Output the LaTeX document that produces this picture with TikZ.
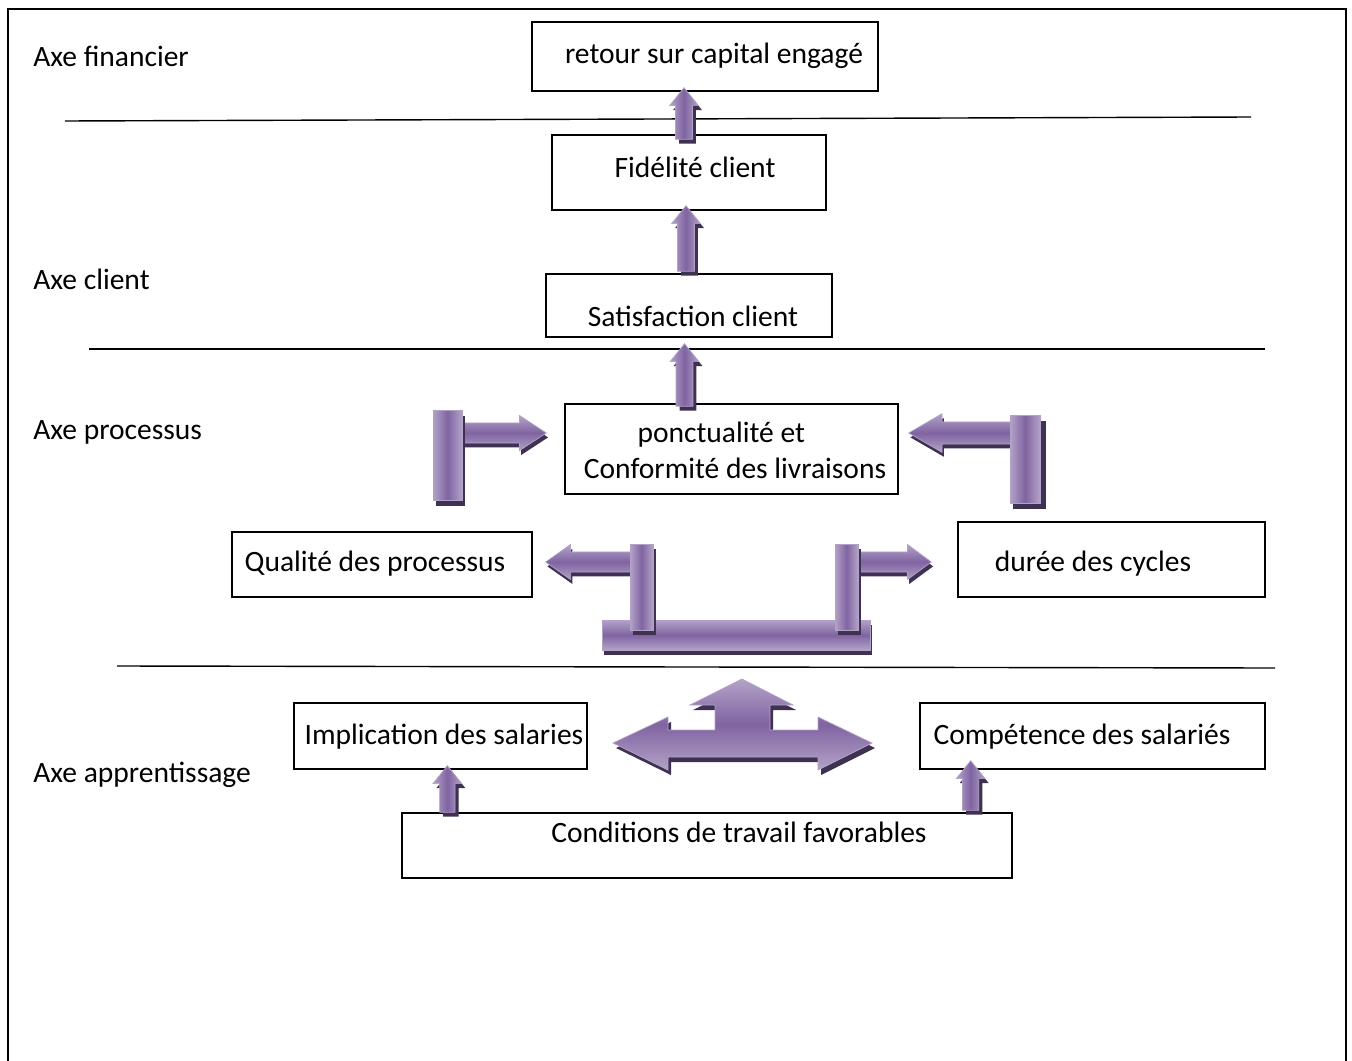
\documentclass[tikz,border=0pt]{standalone}
\usepackage{fontspec}
\setmainfont{Carlito}
\usepackage{tikz}
\usetikzlibrary{calc}

\definecolor{violetmoyen}{HTML}{8064A2}
\definecolor{violetclair}{HTML}{B3A2C7}
\definecolor{violetsombre}{HTML}{3F3151}

\tikzset{
  boite/.style={draw=black, line width=0.8pt, rectangle, inner sep=0pt},
  texte/.style={inner sep=0pt, font=\fontsize{16.8}{20.4}\selectfont},
  axe/.style={texte, anchor=west},
  ligne/.style={draw=black, line width=0.8pt},
  corpsV/.style={left color=violetclair, right color=violetclair, middle color=violetmoyen, draw=violetmoyen!60!white, line width=0.4pt},
  corpsH/.style={top color=violetclair, bottom color=violetclair, middle color=violetmoyen, draw=violetmoyen!60!white, line width=0.4pt},
}

% fleche verticale : base, pointe, demi-tige, demi-tete, longueur de tete
\newcommand{\flecheV}[5]{%
  \fill[violetsombre] let \p1=#1, \p2=#2 in
    ({\x1-#3+2pt},{\y1-2.5pt}) -- ({\x1-#3+2pt},{\y2-#5-2.5pt}) -- ({\x1-#4+2pt},{\y2-#5-2.5pt})
    -- ({\x1+2pt},{\y2-2.5pt}) -- ({\x1+#4+2pt},{\y2-#5-2.5pt}) -- ({\x1+#3+2pt},{\y2-#5-2.5pt})
    -- ({\x1+#3+2pt},{\y1-2.5pt}) -- cycle;
  \path[corpsV] let \p1=#1, \p2=#2 in
    ({\x1-#3},{\y1}) -- ({\x1-#3},{\y2-#5}) -- ({\x1-#4},{\y2-#5}) -- ({\x1},{\y2})
    -- ({\x1+#4},{\y2-#5}) -- ({\x1+#3},{\y2-#5}) -- ({\x1+#3},{\y1}) -- cycle;
}
% fleche horizontale : base, pointe, demi-tige, demi-tete, longueur de tete (negative vers la gauche)
\newcommand{\flecheH}[5]{%
  \fill[violetsombre] let \p1=#1, \p2=#2 in
    ({\x1+1pt},{\y1+#3-2.5pt}) -- ({\x2-(#5)+1pt},{\y1+#3-2.5pt}) -- ({\x2-(#5)+1pt},{\y1+#4-2.5pt})
    -- ({\x2+1pt},{\y1-2.5pt}) -- ({\x2-(#5)+1pt},{\y1-#4-2.5pt}) -- ({\x2-(#5)+1pt},{\y1-#3-2.5pt})
    -- ({\x1+1pt},{\y1-#3-2.5pt}) -- cycle;
  \path[corpsH] let \p1=#1, \p2=#2 in
    ({\x1},{\y1+#3}) -- ({\x2-(#5)},{\y1+#3}) -- ({\x2-(#5)},{\y1+#4}) -- ({\x2},{\y1})
    -- ({\x2-(#5)},{\y1-#4}) -- ({\x2-(#5)},{\y1-#3}) -- ({\x1},{\y1-#3}) -- cycle;
}

\begin{document}
\begin{tikzpicture}[x=0.02cm, y=-0.02cm]
\useasboundingbox (0,0) rectangle (1352,1061);
\draw[line width=1.2pt] (8,1080) -- (8,9) -- (1346,9) -- (1346,1080);

% axes
\node[axe] (financier) at (33,56) {Axe financier};
\node[axe] (client) at (33,279) {Axe client};
\node[axe] (processus) at (33,432) {Axe processus};
\node[axe] (apprentissage) at (33,775) {Axe apprentissage};

\draw[ligne] (65,121) -- (1251,117);
\draw[ligne] (89,349) -- (1265,349);
\draw[ligne] (117,666) -- (1275,668);

% cadres
\node[boite, minimum width=6.92cm, minimum height=1.38cm] (retour) at (705,56.5) {};
\node[boite, minimum width=5.48cm, minimum height=1.5cm] (fid) at (689,172.5) {};
\node[boite, minimum width=5.72cm, minimum height=1.26cm] (sat) at (689,305.5) {};
\node[boite, minimum width=6.66cm, minimum height=1.8cm] (ponct) at (731.5,449) {};
\node[boite, minimum width=6cm, minimum height=1.3cm] (qual) at (382,564.5) {};
\node[boite, minimum width=6.14cm, minimum height=1.5cm] (duree) at (1111.5,559.5) {};
\node[boite, minimum width=5.86cm, minimum height=1.32cm] (impl) at (440.5,736) {};
\node[boite, minimum width=6.9cm, minimum height=1.32cm] (comp) at (1092.5,736) {};
\node[boite, minimum width=12.2cm, minimum height=1.3cm] (cond) at (707,845.5) {};

\node[texte] (retour-t) at (714,56) {retour sur capital engagé};
\node[texte] (fid-t) at (695,167) {Fidélité client};
\node[texte] (sat-t) at (693,316) {Satisfaction client};
\node[texte, align=center] (ponct-t) at (735,450) {ponctualité et\hspace*{0.55cm}\\Conformité des livraisons};
\node[texte] (qual-t) at (375,564) {Qualité des processus};
\node[texte] (duree-t) at (1093,564) {durée des cycles};
\node[texte] (impl-t) at (444,737) {Implication des salaries};
\node[texte] (comp-t) at (1082,737) {Compétence des salariés};
\node[texte] (cond-t) at (739,832) {Conditions de travail favorables};

% fleches verticales
\flecheV{($(fid.north)+(-5,5)$)}{($(retour.south)+(0,-4)$)}{4.8pt}{8.2pt}{10.2pt}
\flecheV{($(sat.north)+(-3,-2)$)}{($(fid.south)+(0,-5)$)}{4.8pt}{8.2pt}{10.2pt}
\flecheV{($(ponct.north)+(-47,3)$)}{($(sat.south)+(0,6)$)}{4.8pt}{8.2pt}{10.2pt}
\flecheV{($(cond.north west)+(46,0)$)}{($(impl.south)+(0,-4)$)}{4.4pt}{8.2pt}{10.2pt}
\flecheV{($(cond.north east)+(-42,-2)$)}{($(comp.south)+(0,-9)$)}{4.6pt}{8.2pt}{10.2pt}

% fleches en L
\flecheH{(460,433)}{($(ponct.west)+(-18,0)$)}{5.7pt}{10pt}{15.3pt}
\fill[violetsombre, shift={(3,6)}] (433,410) rectangle (462,500);
\path[corpsV] (433,410) rectangle (462,500);
\flecheH{(1012,433)}{($(ponct.east)+(10,0)$)}{6.3pt}{11pt}{-19pt}
\fill[violetsombre, shift={(3,6)}] (1010,415) rectangle (1043,503);
\path[corpsV] (1010,415) rectangle (1040,503);

% forme en U
\flecheH{(632,562)}{($(qual.east)+(13,0)$)}{5.7pt}{10pt}{-14.2pt}
\flecheH{(856,562)}{($(duree.west)+(-26,0)$)}{5.7pt}{10pt}{13.6pt}
\fill[violetsombre, shift={(2,5)}] (602,620) rectangle (870,650);
\path[corpsH] (602,620) rectangle (870,650);
\fill[violetsombre, shift={(3,5)}] (630,544) rectangle (653,630);
\path[corpsV] (630,544) rectangle (653,630);
\fill[violetsombre, shift={(3,5)}] (835,544) rectangle (858,630);
\path[corpsV] (835,544) rectangle (858,630);

% fleche a trois branches
\fill[violetsombre, shift={(3,5)}] (613,743) -- (668,717) -- (668,730) -- (715,730) -- (715,705) -- (690,705)
  -- (742,679) -- (793,705) -- (770,705) -- (770,730) -- (818,730) -- (818,717) -- (872,743)
  -- (818,770) -- (818,757) -- (668,757) -- (668,770) -- cycle;
\path[corpsH] (613,743) -- (668,717) -- (668,730) -- (715,730) -- (715,705) -- (690,705)
  -- (742,679) -- (793,705) -- (770,705) -- (770,730) -- (818,730) -- (818,717) -- (872,743)
  -- (818,770) -- (818,757) -- (668,757) -- (668,770) -- cycle;
\end{tikzpicture}
\end{document}
